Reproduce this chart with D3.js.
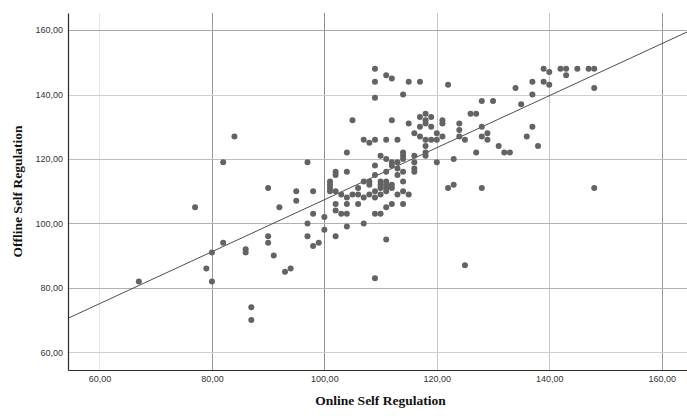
<!DOCTYPE html>
<html>
<head>
<meta charset="utf-8">
<script src="https://cdn.jsdelivr.net/npm/d3@7"></script>
<style>
  html, body { margin: 0; padding: 0; background: #fff; }
  svg { display: block; }
</style>
</head>
<body>
<svg id="chart" width="687" height="416"></svg>
<script>
// Online vs offline self-regulation scores (one entry per respondent)
const onlineScores = [
  109,139,142,143,145,147,148,
  140,143,111,112,
  109,115,117,137,139,
  122,140,
  134,148,
  114,137,
  109,
  128,130,
  135,
  118,126,127,
  117,119,
  105,112,121,118,
  115,121,118,124,
  117,119,128,137,
  124,
  116,120,129,
  84,117,121,124,128,136,
  107,109,111,113,118,119,120,125,129,
  108,
  131,138,118,
  104,127,132,133,114,118,
  110,114,116,118,
  111,123,114,
  82,97,112,113,116,120,
  109,112,
  113,116,
  102,104,111,116,114,
  102,109,113,
  101,107,108,114,110,111,
  101,123,108,110,111,112,
  90,101,106,122,128,148,110,111,112,
  95,98,101,102,114,109,111,
  103,105,106,108,115,113,110,
  104,107,109,
  95,
  102,104,106,112,114,
  77,92,111,
  102,
  98,103,104,109,110,
  100,
  97,107,
  104,
  100,
  90,97,102,
  111,
  82,90,99,
  98,
  86,86,80,
  91,
  125,
  79,94,
  93,
  109,
  67,80,
  87,87
];
const offlineScores = [
  148,148,148,148,148,148,148,
  147,146,146,145,
  144,144,144,144,144,
  143,143,
  142,142,
  140,140,
  139,
  138,138,
  137,
  134,134,134,
  133,133,
  132,132,132,132,
  131,131,131,131,
  130,130,130,130,
  129,
  128,128,128,
  127,127,127,127,127,127,
  126,126,126,126,126,126,126,126,126,
  125,
  124,124,124,
  122,122,122,122,122,122,
  121,121,121,121,
  120,120,120,
  119,119,119,119,119,119,
  118,118,
  117,117,
  116,116,116,116,116,
  115,115,115,
  113,113,113,113,113,113,
  112,112,112,112,112,112,
  111,111,111,111,111,111,111,111,111,
  110,110,110,110,110,110,110,
  109,109,109,109,109,109,109,
  108,108,108,
  107,
  106,106,106,106,106,
  105,105,105,
  104,
  103,103,103,103,103,
  102,
  100,100,
  99,
  98,
  96,96,96,
  95,
  94,94,94,
  93,
  92,91,91,
  90,
  87,
  86,86,
  85,
  83,
  82,82,
  74,70
];

// Axis ticks (shared by both axes)
const tickValues = [60, 80, 100, 120, 140, 160];

// Linear fit: offline = intercept + slope * online
const fitIntercept = 26.65;
const fitSlope = 0.807;

const points = onlineScores.map((v, i) => ({ x: v, y: offlineScores[i] }));

const plot = { left: 68, top: 13, right: 687, bottom: 370 };

const x = d3.scaleLinear().domain([54.4, 164.5]).range([plot.left, plot.right]);
const y = d3.scaleLinear().domain([54.5, 165.3]).range([plot.bottom, plot.top]);

const svg = d3.select("#chart");
const fmt = v => d3.format(".2f")(v).replace(".", ",");

svg.append("defs").append("clipPath").attr("id", "plotClip")
  .append("rect")
  .attr("x", plot.left).attr("y", plot.top)
  .attr("width", plot.right - plot.left).attr("height", plot.bottom - plot.top);

// Grid lines
const vGridColor = { 60: "#e6e6e6", 80: "#9a9a9a", 100: "#8f8f8f", 120: "#c4c4c4", 140: "#c4c4c4", 160: "#9a9a9a" };
const hGridColor = { 60: "#cfcfcf", 80: "#b2b2b2", 100: "#b2b2b2", 120: "#bdbdbd", 140: "#cfcfcf", 160: "#a6a6a6" };

const grid = svg.append("g");
grid.selectAll("line.v").data(tickValues).join("line")
  .attr("class", "v")
  .attr("x1", d => Math.round(x(d)) + 0.5).attr("x2", d => Math.round(x(d)) + 0.5)
  .attr("y1", plot.top).attr("y2", plot.bottom)
  .attr("stroke", d => vGridColor[d]).attr("stroke-width", 1);
grid.selectAll("line.h").data(tickValues).join("line")
  .attr("class", "h")
  .attr("y1", d => Math.round(y(d)) + 0.5).attr("y2", d => Math.round(y(d)) + 0.5)
  .attr("x1", plot.left).attr("x2", plot.right)
  .attr("stroke", d => hGridColor[d]).attr("stroke-width", 1);

// Axes (no tick marks, labels only)
const xAxis = d3.axisBottom(x).tickValues(tickValues).tickFormat(fmt).tickSize(0).tickPadding(6);
const yAxis = d3.axisLeft(y).tickValues(tickValues).tickFormat(fmt).tickSize(0).tickPadding(5);

const gx = svg.append("g").attr("transform", `translate(0,${plot.bottom})`).call(xAxis);
const gy = svg.append("g").attr("transform", `translate(${plot.left},0)`).call(yAxis);
[gx, gy].forEach(g => {
  g.select(".domain").attr("stroke", "#2a2a2a").attr("stroke-width", 1.2);
  g.selectAll("text")
    .attr("font-family", "'Liberation Sans', Arial, sans-serif")
    .attr("font-size", 9)
    .attr("fill", "#333");
});

// Fit line
svg.append("line")
  .attr("clip-path", "url(#plotClip)")
  .attr("x1", x(54.4)).attr("y1", y(fitIntercept + fitSlope * 54.4))
  .attr("x2", x(164.5)).attr("y2", y(fitIntercept + fitSlope * 164.5))
  .attr("stroke", "#3a3a3a").attr("stroke-width", 0.9);

// Points
svg.append("g").attr("clip-path", "url(#plotClip)")
  .selectAll("circle").data(points).join("circle")
  .attr("cx", d => x(d.x)).attr("cy", d => y(d.y))
  .attr("r", 3)
  .attr("fill", "#636363");

// Axis titles
svg.append("text")
  .attr("x", (plot.left + plot.right) / 2 + 3).attr("y", 405)
  .attr("text-anchor", "middle")
  .attr("font-family", "'Liberation Serif', 'Times New Roman', serif")
  .attr("font-weight", "bold").attr("font-size", 13.5)
  .attr("fill", "#111")
  .text("Online Self Regulation");

svg.append("text")
  .attr("transform", `translate(22,${(plot.top + plot.bottom) / 2}) rotate(-90)`)
  .attr("text-anchor", "middle")
  .attr("font-family", "'Liberation Serif', 'Times New Roman', serif")
  .attr("font-weight", "bold").attr("font-size", 13.5)
  .attr("fill", "#111")
  .text("Offline Self Regulation");
</script>
</body>
</html>
